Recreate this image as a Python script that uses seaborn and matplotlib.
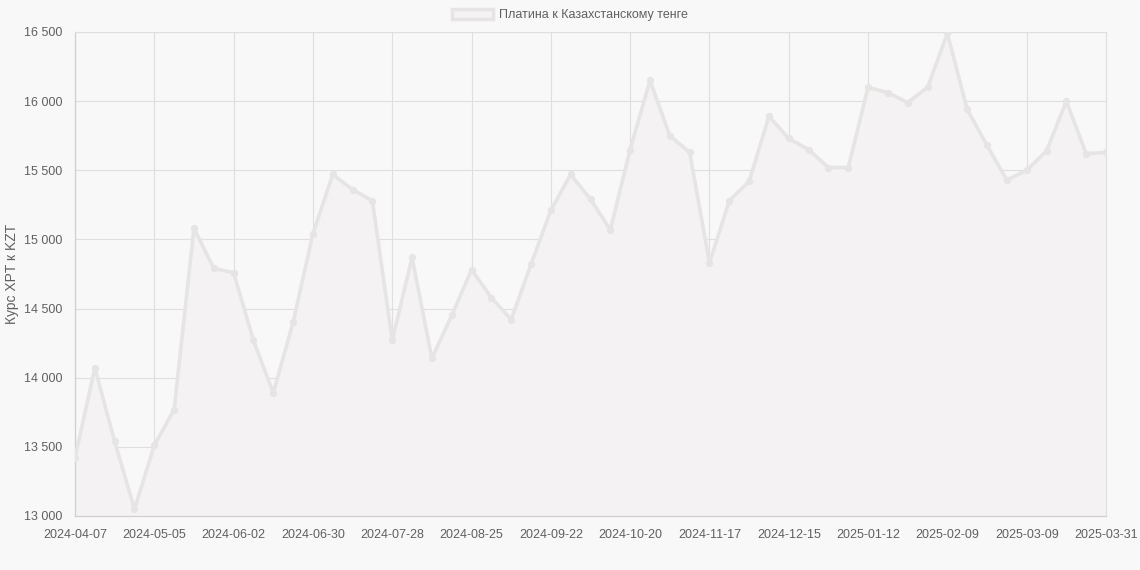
import pandas as pd
import numpy as np
import matplotlib
matplotlib.use("Agg")
import matplotlib.pyplot as plt
import matplotlib.patches as mpatches
from matplotlib.ticker import FuncFormatter
import seaborn as sns

sns.set_theme(style="white")
plt.rcParams['font.family'] = ['Liberation Sans', 'DejaVu Sans']

# недельные даты (последняя точка - 2025-03-31)
daty = list(pd.date_range('2024-04-07', periods=52, freq='7D').strftime('%Y-%m-%d')) + ['2025-03-31']

kurs = [13420, 14070, 13540, 13050, 13510, 13770, 15080, 14790, 14760, 14270,
        13890, 14400, 15040, 15470, 15360, 15280, 14270, 14870, 14140, 14450,
        14780, 14580, 14420, 14820, 15210, 15470, 15290, 15070, 15650, 16150,
        15750, 15630, 14830, 15280, 15420, 15890, 15730, 15650, 15520, 15520,
        16100, 16060, 15990, 16100, 16490, 15940, 15680, 15430, 15500, 15640,
        16000, 15620, 15630]

nazvanie = 'Платина к Казахстанскому тенге'
y_podpis = 'Курс XPT к KZT'

fon = '#f8f8f8'
liniya = '#e7e4e4'
zalivka = '#f4f2f3'
setka = '#dfdfdf'
tekst = '#606060'


def risovat():
    d = pd.DataFrame({'Дата': daty, 'Курс': kurs})
    d['i'] = np.arange(len(d))

    fig = plt.figure(figsize=(11.4, 5.7), dpi=100, facecolor=fon)
    ax = fig.add_axes([75 / 1140, 54 / 570, 1031 / 1140, 484 / 570])
    ax.set_facecolor(fon)

    ax.fill_between(d['i'], d['Курс'], 13000, color=zalivka, zorder=1, linewidth=0)
    sns.lineplot(data=d, x='i', y='Курс', ax=ax, color=liniya, linewidth=2.6,
                 marker='o', markersize=4.5, markerfacecolor=liniya,
                 markeredgecolor=liniya, zorder=3)

    ax.set_xlim(0, len(d) - 1)
    ax.set_ylim(13000, 16500)
    ax.set_yticks(np.arange(13000, 16501, 500))
    ax.yaxis.set_major_formatter(FuncFormatter(lambda v, p: f'{int(v):,}'.replace(',', ' ')))
    poz = list(range(0, len(d), 4))
    ax.set_xticks(poz)
    ax.set_xticklabels([daty[k] for k in poz])

    ax.grid(True, color=setka, linewidth=0.8, zorder=0)
    ax.set_axisbelow(True)
    for s in ['top', 'right']:
        ax.spines[s].set_color(setka)
        ax.spines[s].set_linewidth(0.8)
    for s in ['left', 'bottom']:
        ax.spines[s].set_color('#cfcfcf')
        ax.spines[s].set_linewidth(0.9)
    ax.tick_params(axis='x', colors=tekst, labelsize=9, length=0, pad=9.5)
    ax.tick_params(axis='y', colors=tekst, labelsize=9, length=0, pad=9)

    ax.set_xlabel('')
    ax.set_ylabel('')
    fig.text(12 / 1140, 1 - 274 / 570, y_podpis, rotation=90, ha='center', va='center',
             color=tekst, fontsize=10)

    ruchka = mpatches.Patch(facecolor=zalivka, edgecolor=liniya, linewidth=2.5, label=nazvanie)
    fig.legend(handles=[ruchka], loc='center', bbox_to_anchor=(0.5, 1 - 15 / 570),
               frameon=False, fontsize=9, labelcolor=tekst, handlelength=3.3,
               handleheight=0.9, handletextpad=0.5)

    fig.savefig('out.png', dpi=100, facecolor=fon)


if __name__ == "__main__":
    risovat()
